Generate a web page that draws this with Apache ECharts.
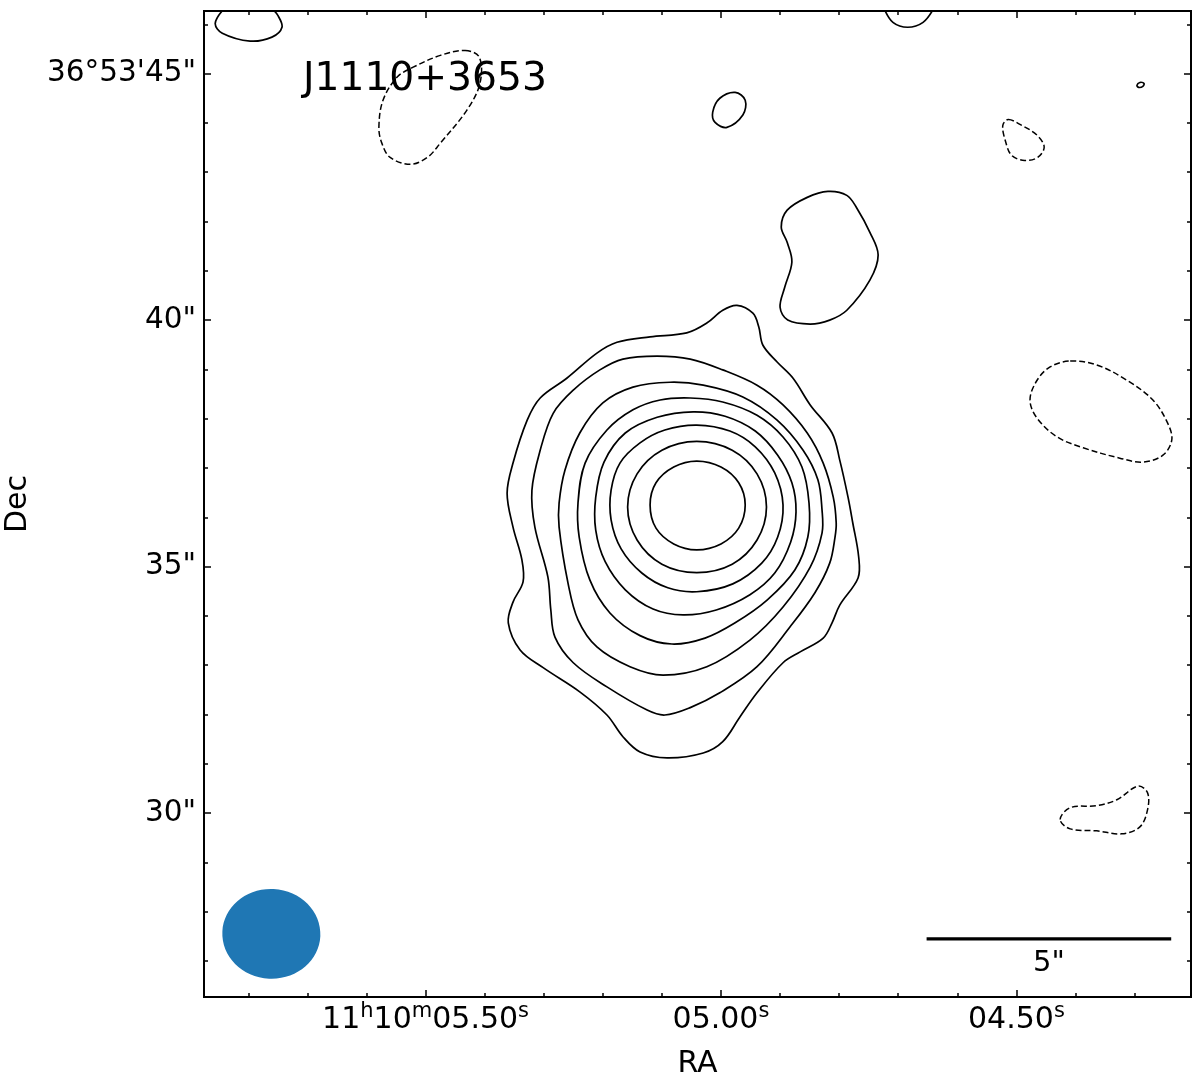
<!DOCTYPE html>
<html>
<head>
<meta charset="utf-8">
<style>html,body{margin:0;background:#fff}#chart{width:1200px;height:1076px}</style>
<script src="https://cdn.jsdelivr.net/npm/echarts@6/dist/echarts.min.js"></script>
</head>
<body>
<div id="chart"></div>
<script>
// RA in seconds of time past 11h10m, Dec in arcsec past 36d53m
const raMajor = [5.5, 5.0, 4.5]
const raMinor = [5.8, 5.7, 5.6, 5.4, 5.3, 5.2, 5.1, 4.9, 4.8, 4.7, 4.6, 4.4, 4.3]
const decMajor = [45, 40, 35, 30]
const decMinor = [46, 44, 43, 42, 41, 39, 38, 37, 36, 34, 33, 32, 31, 29, 28, 27]

const level1 = [[4.973,40.30],[4.946,40.14],[4.936,39.86],[4.929,39.49],[4.905,39.15],[4.878,38.82],[4.849,38.28],[4.812,37.71],[4.799,37.16],[4.785,36.41],[4.777,35.89],[4.767,35.20],[4.768,34.77],[4.799,34.22],[4.812,33.86],[4.827,33.55],[4.866,33.27],[4.895,33.05],[4.939,32.44],[4.968,31.95],[4.997,31.45],[5.030,31.22],[5.091,31.12],[5.137,31.24],[5.166,31.55],[5.193,31.99],[5.239,32.46],[5.301,32.95],[5.340,33.31],[5.360,33.86],[5.352,34.28],[5.335,34.69],[5.337,35.14],[5.352,35.80],[5.362,36.49],[5.352,37.10],[5.328,37.97],[5.306,38.42],[5.261,38.82],[5.210,39.33],[5.176,39.55],[5.120,39.66],[5.058,39.74],[5.024,39.94],[4.997,40.20]]
const level2 = [[5.108,39.27],[5.052,39.21],[4.997,38.99],[4.939,38.68],[4.895,38.28],[4.854,37.71],[4.827,37.10],[4.810,36.41],[4.805,35.89],[4.807,35.60],[4.816,35.07],[4.841,34.47],[4.883,33.78],[4.939,32.97],[5.002,32.44],[5.052,32.14],[5.095,31.99],[5.125,32.09],[5.193,32.56],[5.250,33.05],[5.281,33.57],[5.288,34.12],[5.293,34.79],[5.315,35.80],[5.320,36.55],[5.306,37.36],[5.284,38.11],[5.250,38.58],[5.205,38.99],[5.166,39.21]]
const level3 = [[5.086,38.74],[5.030,38.68],[4.963,38.44],[4.905,37.97],[4.861,37.36],[4.836,36.76],[4.829,36.15],[4.829,35.68],[4.849,34.99],[4.895,34.18],[4.951,33.51],[5.024,32.97],[5.098,32.80],[5.154,32.97],[5.210,33.37],[5.242,33.92],[5.259,34.67],[5.274,35.80],[5.274,36.29],[5.264,36.96],[5.239,37.71],[5.200,38.32],[5.149,38.64]]
const level4 = [[5.052,38.42],[4.997,38.34],[4.939,38.07],[4.895,37.63],[4.863,37.02],[4.851,36.29],[4.853,35.60],[4.875,34.93],[4.922,34.32],[4.976,33.86],[5.027,33.55],[5.083,33.43],[5.137,33.60],[5.188,34.06],[5.222,34.73],[5.240,35.60],[5.242,36.29],[5.230,37.10],[5.193,37.77],[5.149,38.18],[5.103,38.38]]
const level5 = [[5.047,38.14],[4.993,38.05],[4.942,37.75],[4.904,37.26],[4.880,36.70],[4.873,36.11],[4.882,35.50],[4.909,34.87],[4.951,34.43],[5.008,34.12],[5.064,34.02],[5.115,34.14],[5.162,34.53],[5.196,35.10],[5.212,35.74],[5.212,36.41],[5.198,37.12],[5.162,37.71],[5.108,38.03]]
const level6 = [[5.041,37.87],[4.985,37.75],[4.942,37.43],[4.909,36.90],[4.895,36.25],[4.904,35.60],[4.931,35.07],[4.980,34.65],[5.041,34.49],[5.090,34.57],[5.134,34.87],[5.169,35.36],[5.186,35.95],[5.186,36.55],[5.171,37.10],[5.137,37.51],[5.095,37.77]]
const level7 = [[5.041,37.54],[4.981,37.36],[4.939,36.88],[4.923,36.21],[4.939,35.54],[4.981,35.05],[5.041,34.88],[5.100,35.05],[5.142,35.54],[5.158,36.21],[5.142,36.88],[5.100,37.36]]
const level8 = [[5.041,37.14],[5.000,37.02],[4.970,36.70],[4.959,36.25],[4.970,35.78],[5.000,35.46],[5.041,35.34],[5.080,35.46],[5.110,35.78],[5.120,36.25],[5.110,36.70],[5.080,37.02]]
const blobSmall = [[5.014,44.22],[5.002,44.50],[4.976,44.62],[4.959,44.46],[4.963,44.16],[4.990,43.91],[5.010,44.01]]
const island = [[4.819,42.61],[4.787,42.53],[4.770,42.27],[4.748,41.78],[4.734,41.32],[4.748,40.81],[4.787,40.20],[4.816,40.00],[4.849,39.92],[4.887,40.00],[4.900,40.26],[4.892,40.67],[4.880,41.18],[4.888,41.58],[4.898,41.89],[4.888,42.23],[4.854,42.49]]
const speck = [[4.296,44.76],[4.291,44.82],[4.284,44.80],[4.286,44.74],[4.293,44.72]]
// these two run off the top of the frame
const edgeLeft = [[5.841,46.32],[5.856,46.02],[5.844,45.82],[5.797,45.66],[5.760,45.74],[5.743,45.94],[5.750,46.18],[5.760,46.32]]
const edgeTop = [[4.724,46.32],[4.709,46.04],[4.684,45.94],[4.658,46.04],[4.640,46.32]]

const neg1 = [[5.433,45.47],[5.409,45.33],[5.408,44.80],[5.430,44.26],[5.475,43.59],[5.497,43.30],[5.526,43.16],[5.560,43.30],[5.574,43.59],[5.579,43.91],[5.572,44.46],[5.548,44.93],[5.521,45.13],[5.475,45.37]]
const neg2 = [[4.514,44.07],[4.494,43.97],[4.465,43.75],[4.453,43.51],[4.464,43.30],[4.486,43.24],[4.508,43.34],[4.519,43.65],[4.523,43.95]]
const neg3 = [[4.409,39.17],[4.364,39.09],[4.313,38.78],[4.269,38.38],[4.244,37.91],[4.237,37.57],[4.252,37.26],[4.286,37.12],[4.325,37.20],[4.387,37.41],[4.431,37.63],[4.465,38.01],[4.477,38.38],[4.465,38.78],[4.443,39.05]]
const neg4 = [[4.426,29.87],[4.409,30.11],[4.364,30.15],[4.330,30.27],[4.294,30.55],[4.278,30.41],[4.278,30.07],[4.291,29.72],[4.322,29.58],[4.364,29.64],[4.409,29.68]]

const scaleBar = [[4.652,27.45],[4.238,27.45]]
const scaleLabel = [[4.445,26.95]]
const beam = [[5.761,27.55,0.083,0.91]]

const FONT = 'DejaVu Sans'

// line series flatten curves into corners, so each contour is one smoothed shape
function contour(pts, opts) {
  return {
    type: 'custom', data: pts, silent: true, clip: true,
    encode: { x: 0, y: 1 },
    renderItem: (params, api) => {
      if (params.dataIndex !== 0) return null
      return {
        type: opts.open ? 'polyline' : 'polygon',
        shape: { points: pts.map((p) => api.coord(p)), smooth: 0.35 },
        style: { fill: 'none', stroke: '#000', lineWidth: opts.dashed ? 1.5 : 1.7, lineDash: opts.dashed ? [6, 3] : null },
      }
    },
  }
}

// one axis per side and tick size, all on the same scale
function xAxis(position, values, len, labels) {
  return {
    type: 'value', position, inverse: true, min: 4.2045, max: 5.875,
    splitLine: { show: false },
    axisLine: { onZero: false, lineStyle: { color: '#000', width: 2 } },
    axisTick: { inside: true, length: len, customValues: values, lineStyle: { color: '#000', width: 1.5 } },
    axisLabel: labels ? {
      show: true, customValues: values, margin: 4, color: '#000', fontFamily: FONT, fontSize: 30,
      formatter: (v) => v === 5.5 ? '{n|11}{s|h}{n|10}{s|m}{n|05.50}{s|s}'
        : '{n|0' + v.toFixed(2) + '}{s|s}',
      rich: {
        n: { fontFamily: FONT, fontSize: 30, color: '#000', lineHeight: 38 },
        s: { fontFamily: FONT, fontSize: 21, color: '#000', verticalAlign: 'top', lineHeight: 16 },
      },
    } : { show: false },
    name: labels ? 'RA' : '', nameLocation: 'middle', nameGap: 52,
    nameTextStyle: { color: '#000', fontFamily: FONT, fontSize: 30 },
  }
}

function yAxis(position, values, len, labels) {
  return {
    type: 'value', position, min: 26.27, max: 46.27,
    splitLine: { show: false },
    axisLine: { onZero: false, lineStyle: { color: '#000', width: 2 } },
    axisTick: { inside: true, length: len, customValues: values, lineStyle: { color: '#000', width: 1.5 } },
    axisLabel: labels ? {
      show: true, customValues: values, margin: 8, color: '#000', fontFamily: FONT, fontSize: 29.5,
      formatter: (v) => v === 45 ? '36°53\'45"' : v + '"',
    } : { show: false },
    name: labels ? 'Dec' : '', nameLocation: 'middle', nameGap: 171,
    nameTextStyle: { color: '#000', fontFamily: FONT, fontSize: 30 },
  }
}

const chart = echarts.init(document.getElementById('chart'))
chart.setOption({
  animation: false,
  backgroundColor: '#fff',
  title: { text: 'J1110+3653', left: 298, top: 55, textStyle: { color: '#000', fontFamily: FONT, fontSize: 39.2, fontWeight: 'normal' } },
  grid: { left: 204, right: 9, top: 11, bottom: 79, outerBoundsMode: 'none' },
  xAxis: [xAxis('bottom', raMajor, 7, true), xAxis('bottom', raMinor, 4), xAxis('top', raMajor, 7), xAxis('top', raMinor, 4)],
  yAxis: [yAxis('left', decMajor, 7, true), yAxis('left', decMinor, 4), yAxis('right', decMajor, 7), yAxis('right', decMinor, 4)],
  series: [
    ...[level1, level2, level3, level4, level5, level6, level7, level8, blobSmall, island, speck].map((c) => contour(c, {})),
    contour(edgeLeft, { open: true }),
    contour(edgeTop, { open: true }),
    ...[neg1, neg2, neg3, neg4].map((c) => contour(c, { dashed: true })),
    {
      type: 'line', data: scaleBar, showSymbol: false, silent: true,
      lineStyle: { color: '#000', width: 3.3 },
    },
    {
      type: 'scatter', data: scaleLabel, symbolSize: 0, silent: true, itemStyle: { opacity: 1 },
      label: { show: true, position: 'inside', formatter: '5"', color: '#000', fontFamily: FONT, fontSize: 29 },
    },
    {
      type: 'custom', data: beam, silent: true, clip: true,
      encode: { x: 0, y: 1 },
      renderItem: (params, api) => {
        const c = api.coord([api.value(0), api.value(1)])
        const s = api.size([api.value(2), api.value(3)])
        return {
          type: 'ellipse', x: c[0], y: c[1], rotation: -0.05,
          shape: { cx: 0, cy: 0, rx: s[0], ry: s[1] },
          style: { fill: '#1f77b4' },
        }
      },
    },
  ],
})
</script>
</body>
</html>
